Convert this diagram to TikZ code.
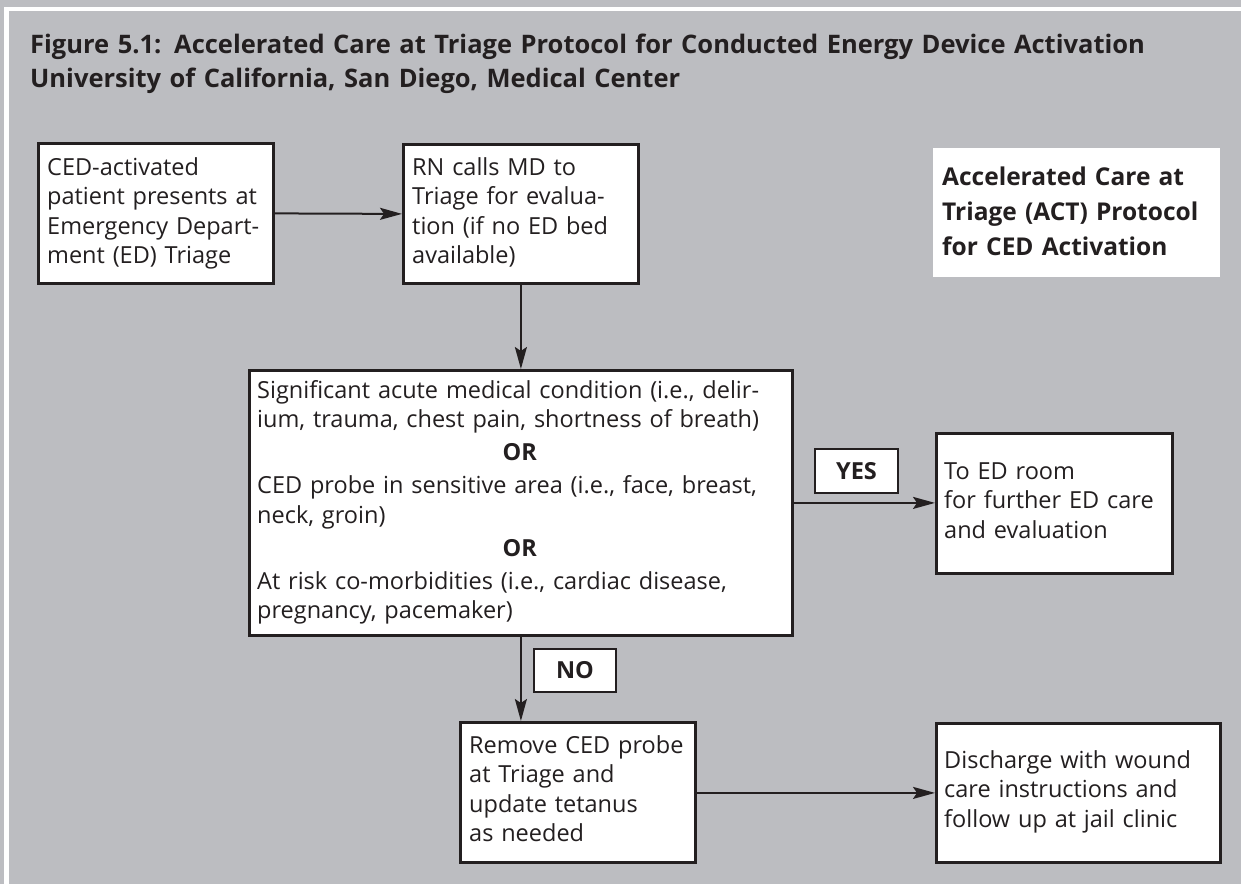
\documentclass[tikz,border=0pt]{standalone}
\usepackage{fontspec}
\setmainfont{Open Sans}
\usetikzlibrary{positioning,arrows.meta}
\definecolor{panelgray}{RGB}{188,189,193}
\definecolor{inkdark}{RGB}{35,31,32}

\tikzset{
  box/.style={draw=inkdark, line width=2.8pt, fill=white, anchor=north west, inner sep=0pt},
  boxtext/.style={anchor=base west, align=left, inner sep=0pt, text=inkdark,
    font=\fontsize{23.5}{29.5}\selectfont},
  tag/.style={draw=inkdark, line width=2.6pt, fill=white, text=inkdark, inner sep=0pt,
    font=\fontsize{23.5}{28}\selectfont\bfseries},
  flow/.style={draw=inkdark, line width=2pt, -{Stealth[length=22pt,width=12pt,inset=4pt]}},
}

\begin{document}
\begin{tikzpicture}[x=1pt,y=-1pt]
\useasboundingbox (0,0) rectangle (1241,884);
\fill[panelgray] (0,0) rectangle (1241,884);
\draw[white, line width=4.5pt] (6.5,884) -- (6.5,9) -- (1241,9);

% heading
\node[anchor=base west, align=left, inner sep=0pt, text=inkdark, text width=1200pt,
  font=\fontsize{25.5}{34}\selectfont\bfseries] (heading) at (30,53)
  {Figure 5.1: Accelerated Care at Triage Protocol for Conducted Energy Device Activation\\
   University of California, San Diego, Medical Center};

% protocol label
\node[fill=white, anchor=north west, minimum width=287pt, minimum height=129pt, inner sep=0pt] (act) at (933,148) {};
\node[anchor=base west, align=left, inner sep=0pt, text=inkdark, text width=280pt,
  font=\fontsize{24.5}{35}\selectfont\bfseries] (acttext) at ([shift={(9,37)}]act.north west)
  {Accelerated Care at\\Triage (ACT) Protocol\\for CED Activation};

% boxes
\node[box, minimum width=235pt, minimum height=140pt] (ced) at (37,142) {};
\node[box, minimum width=235pt, minimum height=139pt] (rncall) at (402,143) {};
\node[box, minimum width=543pt, minimum height=265pt] (acute) at (248,369) {};
\node[box, minimum width=236pt, minimum height=140pt] (toroom) at (935,432) {};
\node[box, minimum width=235pt, minimum height=140pt] (remove) at (459,721) {};
\node[box, minimum width=284pt, minimum height=139pt] (discharge) at (935,722) {};

% box texts
\node[boxtext, text width=222pt] (cedtext) at ([shift={(10,33)}]ced.north west)
  {CED-activated\\patient presents at\\Emergency Depart-\\ment (ED) Triage};
\node[boxtext, text width=222pt] (rntext) at ([shift={(10,32)}]rncall.north west)
  {RN calls MD to\\Triage for evalua-\\tion (if no ED bed\\available)};
\node[boxtext, text width=525pt] (acutetext) at ([shift={(9,29)}]acute.north west)
  {Significant acute medical condition (i.e., delir-\\
   ium, trauma, chest pain, shortness of breath)\\[3.5pt]
   \makebox[\linewidth]{\bfseries OR}\\[3.5pt]
   CED probe in sensitive area (i.e., face, breast,\\
   neck, groin)\\[3.5pt]
   \makebox[\linewidth]{\bfseries OR}\\[3.5pt]
   At risk co-morbidities (i.e., cardiac disease,\\
   pregnancy, pacemaker)};
\node[boxtext, text width=226pt] (roomtext) at ([shift={(9,47)}]toroom.north west)
  {To ED room\\for further ED care\\and evaluation};
\node[boxtext, text width=224pt] (removetext) at ([shift={(10,32)}]remove.north west)
  {Remove CED probe\\at Triage and\\update tetanus\\as needed};
\node[boxtext, text width=272pt] (dischargetext) at ([shift={(9,46)}]discharge.north west)
  {Discharge with wound\\care instructions and\\follow up at jail clinic};

% decision tags
\node[tag, minimum width=83pt, minimum height=44pt] (yes) at (856.5,471) {YES};
\node[tag, minimum width=82pt, minimum height=43pt] (no) at (575,670.5) {NO};

% connectors
\draw[flow] (ced.east) -- (rncall.west);
\draw[flow] (rncall.south) -- (acute.north);
\draw[flow] (acute.east) -- (acute.east -| toroom.west);
\draw[flow] (acute.south) -- (acute.south |- remove.north);
\draw[flow] (remove.east |- discharge.west) -- (discharge.west);
\end{tikzpicture}
\end{document}
